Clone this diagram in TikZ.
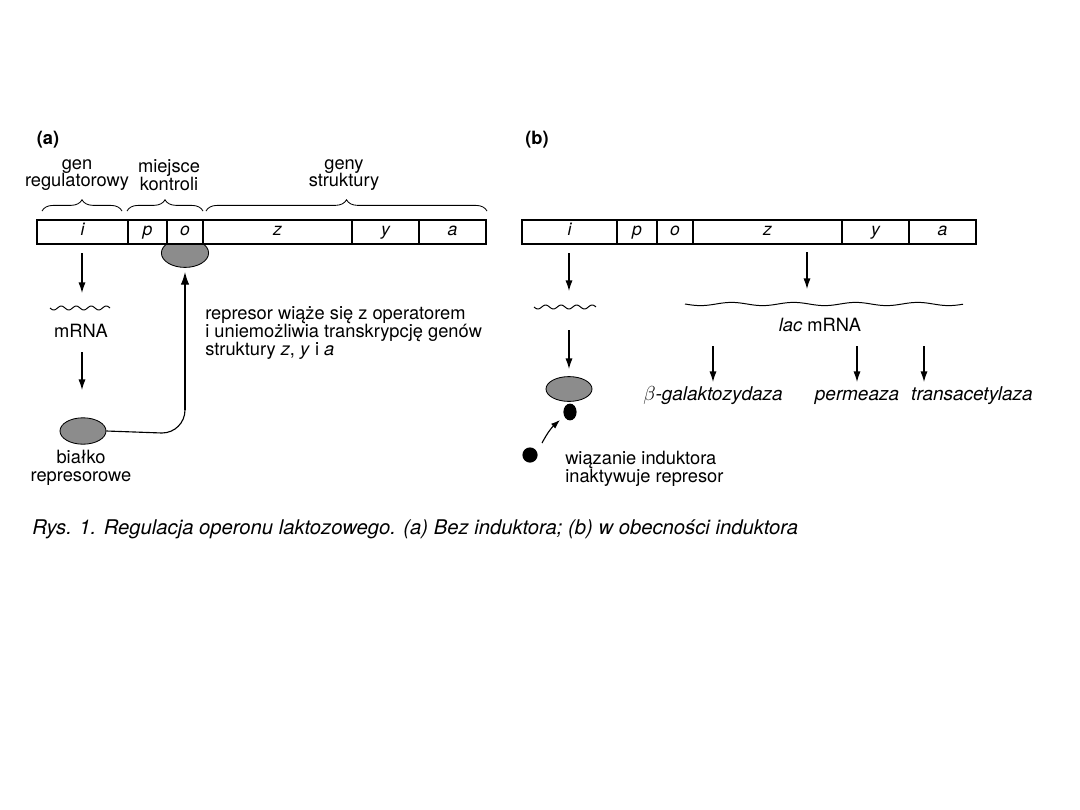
\documentclass[tikz,border=0pt]{standalone}
\usepackage{fontspec}
\setmainfont{TeX Gyre Heros}
\usetikzlibrary{arrows.meta,positioning,calc,shapes.geometric,decorations.pathreplacing}

\tikzset{
  lbl/.style={font=\fontsize{13}{12.6}\selectfont, inner sep=0pt},
  jeden/.style={text height=9pt, text depth=3pt},
  cell/.style={draw, line width=0.9pt, fill=white, inner sep=0pt, outer sep=0pt,
    minimum height=0.6cm, text height=8.5pt, text depth=3pt,
    font=\fontsize{12.5}{12}\selectfont\itshape},
  arr/.style={-{Latex[length=7.5pt,width=5pt]}, line width=0.8pt},
  represor/.style={ellipse, draw, line width=0.6pt, fill=gray!90, inner sep=0pt},
  induktor/.style={ellipse, fill=black, inner sep=0pt},
  klamra/.style={decorate, decoration={brace, amplitude=8pt}, line width=0.6pt},
  fala/.style={line width=0.7pt, smooth}
}

\begin{document}
\begin{tikzpicture}[x=0.025cm, y=-0.025cm]
\useasboundingbox (0,0) rectangle (1080,810);
\node[lbl, font=\fontsize{13}{12}\selectfont\bfseries] (lab-a) at (48,140) {(a)};
\node[lbl, font=\fontsize{13}{12}\selectfont\bfseries] (lab-b) at (537,140) {(b)};

% (a) bez induktora
\node[represor, minimum width=1.18cm, minimum height=0.72cm] (rep-a) at (185,253) {};
\foreach \l/\r/\t in {37/128/i,128/167/p,167/203/o,203/352/z,352/419/y,419/486/a}
  \node[cell, minimum width={(\r-\l)*0.025cm}] (a-\t) at ({(\l+\r)/2},232) {\t};
\draw[klamra] (42,211) -- (122,211);
\draw[klamra] (127,211) -- (203,211);
\draw[klamra] (206,211) -- (487,211);
\node[lbl, align=center] (gen) at (77,175) {gen\\regulatorowy};
\node[lbl, align=center] (kontrola) at (169,175) {miejsce\\kontroli};
\node[lbl, align=center] (geny) at (344,175) {geny\\struktury};

\coordinate (a-w1) at (82,253);
\coordinate (a-w2) at (82,293);
\draw[arr] (a-w1) -- (a-w2);
\draw[fala] plot[domain=50:110, samples=61] (\x, {308+2*sin((\x-50)*24)});
\node[lbl, jeden] (mrna-a) at (81,333) {mRNA};
\coordinate (a-w3) at (82,352);
\coordinate (a-w4) at (82,390);
\draw[arr] (a-w3) -- (a-w4);
\node[represor, minimum width=1.15cm, minimum height=0.66cm] (rep-a2) at (83,431) {};
\node[lbl, align=center] (bialko) at (81,468) {białko\\represorowe};
\coordinate (zakret) at (185,410);
\coordinate (cel) at (185,272);
\draw[line width=0.8pt] (rep-a2.east) -- (162,433) to[out=0, in=-90] (zakret);
\draw[line width=0.8pt, -{Latex[length=9pt,width=6pt]}] (zakret) -- (cel);
\node[lbl, align=left, anchor=west] (opis-a) at (205,333)
  {represor wiąże się z operatorem\\i uniemożliwia transkrypcję genów\\struktury \textit{z}, \textit{y} i \textit{a}};

% (b) w obecnosci induktora
\foreach \l/\r/\t in {522/617/i,617/657/p,657/693/o,693/842/z,842/909/y,909/976/a}
  \node[cell, minimum width={(\r-\l)*0.025cm}] (b-\t) at ({(\l+\r)/2},232) {\t};
\coordinate (b-w1) at (569,253);
\coordinate (b-w2) at (569,291);
\draw[arr] (b-w1) -- (b-w2);
\draw[fala] plot[domain=534:596, samples=61] (\x, {307+2*sin((\x-534)*23.2)});
\coordinate (b-w3) at (569,330);
\coordinate (b-w4) at (569,369);
\draw[arr] (b-w3) -- (b-w4);
\node[represor, minimum width=1.15cm, minimum height=0.62cm] (rep-b) at (569,389) {};
\node[induktor, minimum width=0.33cm, minimum height=0.42cm] (ind-b) at (570,412) {};
\node[induktor, minimum size=0.38cm] (ind-free) at (530,455) {};
\coordinate (ind-s) at (542,443);
\coordinate (ind-e) at (560,420);
\draw[line width=0.8pt, -{Latex[length=6.5pt,width=4.5pt]}] (ind-s) to[bend left=10] (ind-e);
\node[lbl, align=left, anchor=west] (opis-b) at (565,469) {wiązanie induktora\\inaktywuje represor};

\coordinate (b-z1) at (807,252);
\coordinate (b-z2) at (807,289);
\draw[arr] (b-z1) -- (b-z2);
\draw[fala] plot[domain=685:963, samples=200] (\x, {304+1.6*sin((\x-685)*5.8)});
\node[lbl, jeden] (lac) at (820,327) {\textit{lac} mRNA};
\foreach \x/\n in {713/gal,857/perm,924/trans}{
  \coordinate (\n-1) at (\x,346);
  \coordinate (\n-2) at (\x,382);
  \draw[arr] (\n-1) -- (\n-2);
}
\node[lbl, jeden, font=\fontsize{13.5}{12}\selectfont\itshape] (gal) at (713,396) {$\beta$-galaktozydaza};
\node[lbl, jeden, font=\fontsize{13.5}{12}\selectfont\itshape] (perm) at (857,396) {permeaza};
\node[lbl, jeden, font=\fontsize{13.5}{12}\selectfont\itshape] (trans) at (972,396) {transacetylaza};

\node[lbl, jeden, anchor=west, font=\fontsize{14.4}{14}\selectfont\itshape] (podpis) at (32,530)
  {Rys. 1. Regulacja operonu laktozowego. (a) Bez induktora; (b) w obecności induktora};
\end{tikzpicture}
\end{document}
